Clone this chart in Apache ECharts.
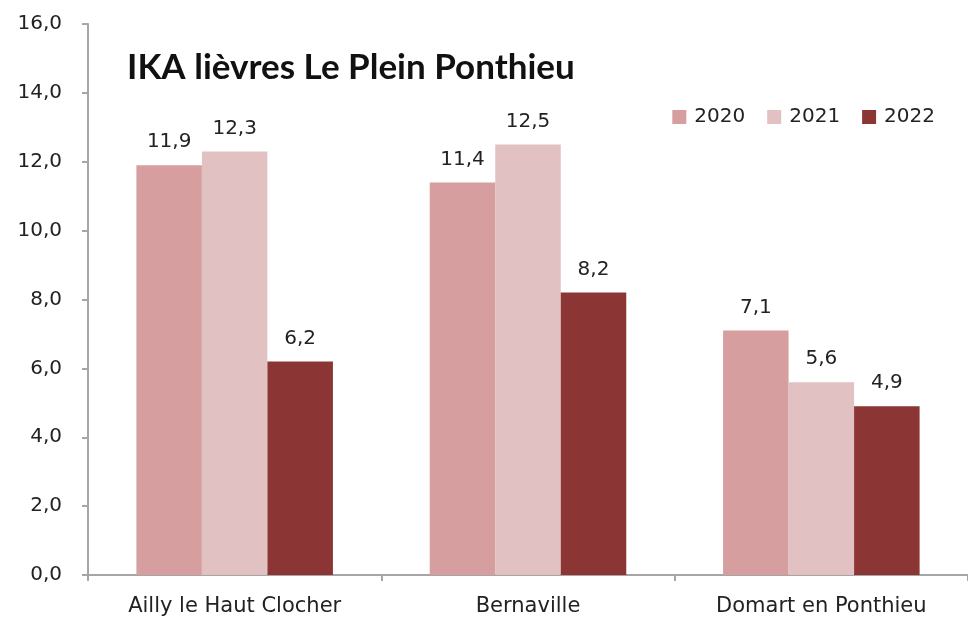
<!DOCTYPE html>
<html>
<head>
<meta charset="utf-8">
<script src="https://cdn.jsdelivr.net/npm/echarts@6/dist/echarts.min.js"></script>
<style>
  html, body { margin: 0; padding: 0; background: #fff; }
  #chart { width: 968px; height: 623px; }
</style>
</head>
<body>
<div id="chart"></div>
<script>
const communes = ['Ailly le Haut Clocher', 'Bernaville', 'Domart en Ponthieu'];
const years = ['2020', '2021', '2022'];
const ika2020 = [11.9, 11.4, 7.1];
const ika2021 = [12.3, 12.5, 5.6];
const ika2022 = [6.2, 8.2, 4.9];
const colors = ['#d69e9e', '#e2c1c2', '#8b3534'];

const labelFont = '"DejaVu Sans", sans-serif';
const titleFont = 'Lato, sans-serif';
const fmt = v => v.toFixed(1).replace('.', ',');

const chart = echarts.init(document.getElementById('chart'));

const makeSeries = (name, data, color) => ({
  name: name,
  type: 'bar',
  data: data,
  barGap: '0%',
  barCategoryGap: '33%',
  itemStyle: { color: color },
  label: {
    show: true,
    position: 'top',
    distance: 13,
    color: '#222',
    fontSize: 20,
    fontFamily: labelFont,
    formatter: p => fmt(p.value)
  }
});

chart.setOption({
  animation: false,
  title: {
    text: 'IKA lièvres Le Plein Ponthieu',
    left: 122,
    top: 45,
    textStyle: { fontSize: 35, fontWeight: 'bold', color: '#111', fontFamily: titleFont }
  },
  legend: {
    data: years,
    right: 28,
    top: 102,
    icon: 'rect',
    itemWidth: 14,
    itemHeight: 14,
    itemGap: 22,
    textStyle: { fontSize: 20, color: '#222', fontFamily: labelFont, padding: [0, 0, 0, 3] }
  },
  grid: { left: 88, right: -8, top: 24, bottom: 48 },
  xAxis: {
    type: 'category',
    data: communes,
    axisLine: { lineStyle: { color: '#a6a6a6', width: 2 } },
    axisTick: { show: true, length: 6, lineStyle: { color: '#a6a6a6', width: 2 } },
    axisLabel: { fontSize: 21, color: '#222', margin: 21, fontFamily: labelFont }
  },
  yAxis: {
    type: 'value',
    min: 0,
    max: 16,
    interval: 2,
    axisLine: { show: true, lineStyle: { color: '#a6a6a6', width: 2 } },
    axisTick: { show: true, length: 6, lineStyle: { color: '#a6a6a6', width: 2 } },
    splitLine: { show: false },
    axisLabel: { fontSize: 20, color: '#222', margin: 26, fontFamily: labelFont, formatter: v => fmt(v) }
  },
  series: [
    makeSeries(years[0], ika2020, colors[0]),
    makeSeries(years[1], ika2021, colors[1]),
    makeSeries(years[2], ika2022, colors[2])
  ]
});
</script>
</body>
</html>
